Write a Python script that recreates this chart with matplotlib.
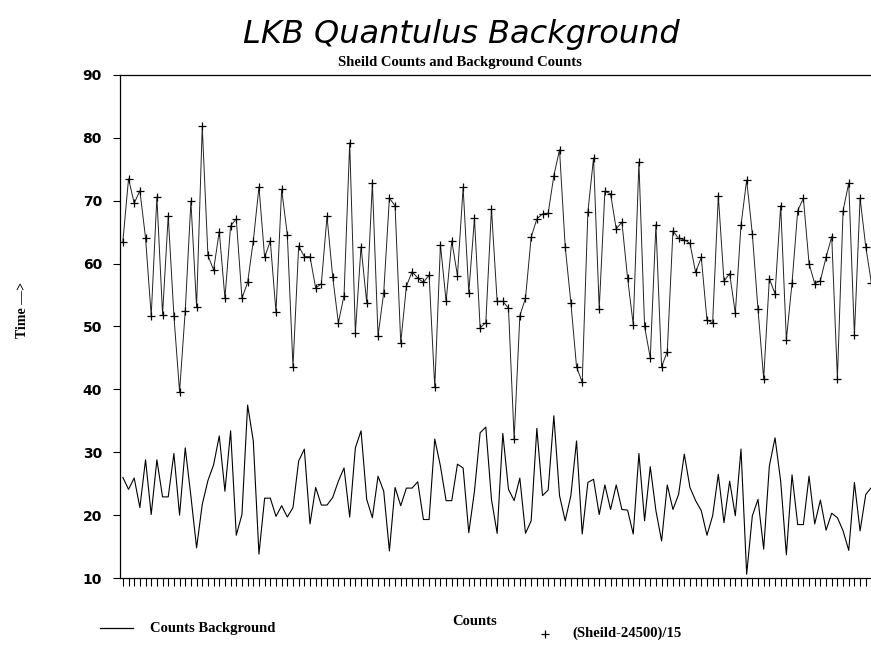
import numpy as np
from matplotlib import pyplot as plt

# (Sheild-24500)/15, plotted with + markers
sheild = [63.5, 73.5, 69.6, 71.6, 64.1, 51.7, 70.6, 51.9, 67.6, 51.7,
          39.6, 52.5, 69.9, 53.1, 81.8, 61.3, 59.0, 65.1, 54.5, 66.0,
          67.1, 54.5, 57.0, 63.6, 72.2, 61.0, 63.6, 52.3, 71.8, 64.6,
          43.6, 62.8, 61.1, 61.1, 56.1, 56.8, 67.5, 57.9, 50.6, 54.9,
          79.2, 49.0, 62.7, 53.8, 72.8, 48.5, 55.4, 70.4, 69.2, 47.4,
          56.4, 58.7, 57.7, 57.0, 58.2, 40.3, 63.0, 54.0, 63.6, 58.1,
          72.1, 55.4, 67.2, 49.8, 50.6, 68.7, 54.0, 54.0, 52.9, 32.1,
          51.7, 54.5, 64.2, 67.1, 67.9, 68.0, 74.0, 78.1, 62.7, 53.8,
          43.6, 41.1, 68.2, 76.8, 52.8, 71.5, 71.1, 65.5, 66.6, 57.7,
          50.3, 76.1, 50.0, 45.0, 66.2, 43.6, 46.0, 65.2, 64.0, 63.8,
          63.2, 58.6, 61.0, 51.0, 50.6, 70.8, 57.2, 58.4, 52.1, 66.1,
          73.3, 64.7, 52.7, 41.7, 57.6, 55.2, 69.2, 47.9, 56.9, 68.4,
          70.4, 60.0, 56.8, 57.3, 61.0, 64.3, 41.7, 68.4, 72.8, 48.6,
          70.4, 62.7, 56.9]

# Counts Background, plotted as a plain line
background = [26.0, 24.1, 25.9, 21.2, 28.8, 20.1, 28.8, 22.9, 22.9, 29.8,
              20.0, 30.7, 23.0, 14.8, 21.7, 25.5, 28.0, 32.6, 23.8, 33.4,
              16.8, 20.1, 37.5, 31.8, 13.8, 22.7, 22.7, 19.8, 21.5, 19.7,
              21.2, 28.6, 30.5, 18.6, 24.4, 21.6, 21.6, 22.8, 25.4, 27.5,
              19.7, 30.7, 33.4, 22.5, 19.6, 26.2, 23.8, 14.3, 24.4, 21.5,
              24.3, 24.3, 25.3, 19.3, 19.3, 32.1, 27.8, 22.3, 22.3, 28.1,
              27.5, 17.2, 23.8, 33.1, 34.0, 22.5, 17.1, 33.0, 24.1, 22.3,
              25.9, 17.1, 19.1, 33.8, 23.1, 24.0, 35.8, 23.1, 19.1, 23.1,
              31.8, 17.0, 25.2, 25.7, 20.1, 24.8, 20.9, 24.8, 20.9, 20.8,
              17.0, 29.8, 19.1, 27.7, 20.7, 15.9, 24.8, 20.9, 23.3, 29.7,
              24.4, 22.3, 20.7, 16.8, 19.9, 26.5, 18.8, 25.4, 19.9, 30.5,
              10.6, 19.9, 22.5, 14.6, 27.8, 32.3, 25.4, 13.7, 26.4, 18.5,
              18.5, 26.2, 18.6, 22.4, 17.6, 20.3, 19.6, 17.5, 14.4, 25.2,
              17.5, 23.3, 24.4]

y_ticks = [10, 20, 30, 40, 50, 60, 70, 80, 90]

x = np.arange(1, len(sheild) + 1)

serif = ['Liberation Serif', 'DejaVu Serif']

fig = plt.figure(figsize=(8.71, 6.69), dpi=100)
ax = fig.add_axes([0.1378, 0.136, 0.8692, 0.752])

ax.plot(x, background, color='black', linewidth=0.8)
ax.plot(x, sheild, color='#222222', linewidth=0.7, marker='+',
        markersize=6, markeredgewidth=0.9, markeredgecolor='black')

ax.set_xlim(0.5, 134)
ax.set_ylim(10, 90)
ax.set_yticks(y_ticks)
ax.set_yticklabels([str(v) for v in y_ticks], fontweight='bold',
                   fontsize=10, family='DejaVu Sans')
ax.set_xticks(x)
ax.set_xticklabels([])
ax.tick_params(axis='x', direction='out', length=6, width=0.8)
ax.tick_params(axis='y', direction='out', length=5, width=0.8, pad=8)
for side in ['top', 'left', 'bottom']:
    ax.spines[side].set_linewidth(0.9)
ax.spines['right'].set_visible(False)

fig.text(0.53, 0.948, 'LKB Quantulus Background', ha='center', va='center',
         fontsize=23, style='italic', fontweight='light', family='DejaVu Sans')
fig.text(0.528, 0.907, 'Sheild Counts and Background Counts', ha='center',
         va='center', fontsize=10.5, fontweight='bold', family=serif)
fig.text(0.026, 0.536, 'Time \u2014>', rotation=90, ha='center', va='center',
         fontsize=10, fontweight='bold', family=serif)
fig.text(0.545, 0.071, 'Counts', ha='center', va='center',
         fontsize=10.5, fontweight='bold', family=serif)

# legend drawn by hand like the original print-out
fig.add_artist(plt.Line2D([0.115, 0.153], [0.061, 0.061], color='black',
                          linewidth=0.9, transform=fig.transFigure))
fig.text(0.172, 0.061, 'Counts Background', ha='left', va='center',
         fontsize=10.5, fontweight='bold', family=serif)
fig.add_artist(plt.Line2D([0.626], [0.053], marker='+', color='black',
                          markersize=6, markeredgewidth=0.9,
                          transform=fig.transFigure))
fig.text(0.657, 0.053, '(Sheild-24500)/15', ha='left', va='center',
         fontsize=10.5, fontweight='bold', family=serif)

fig.savefig('out.png', dpi=100)
